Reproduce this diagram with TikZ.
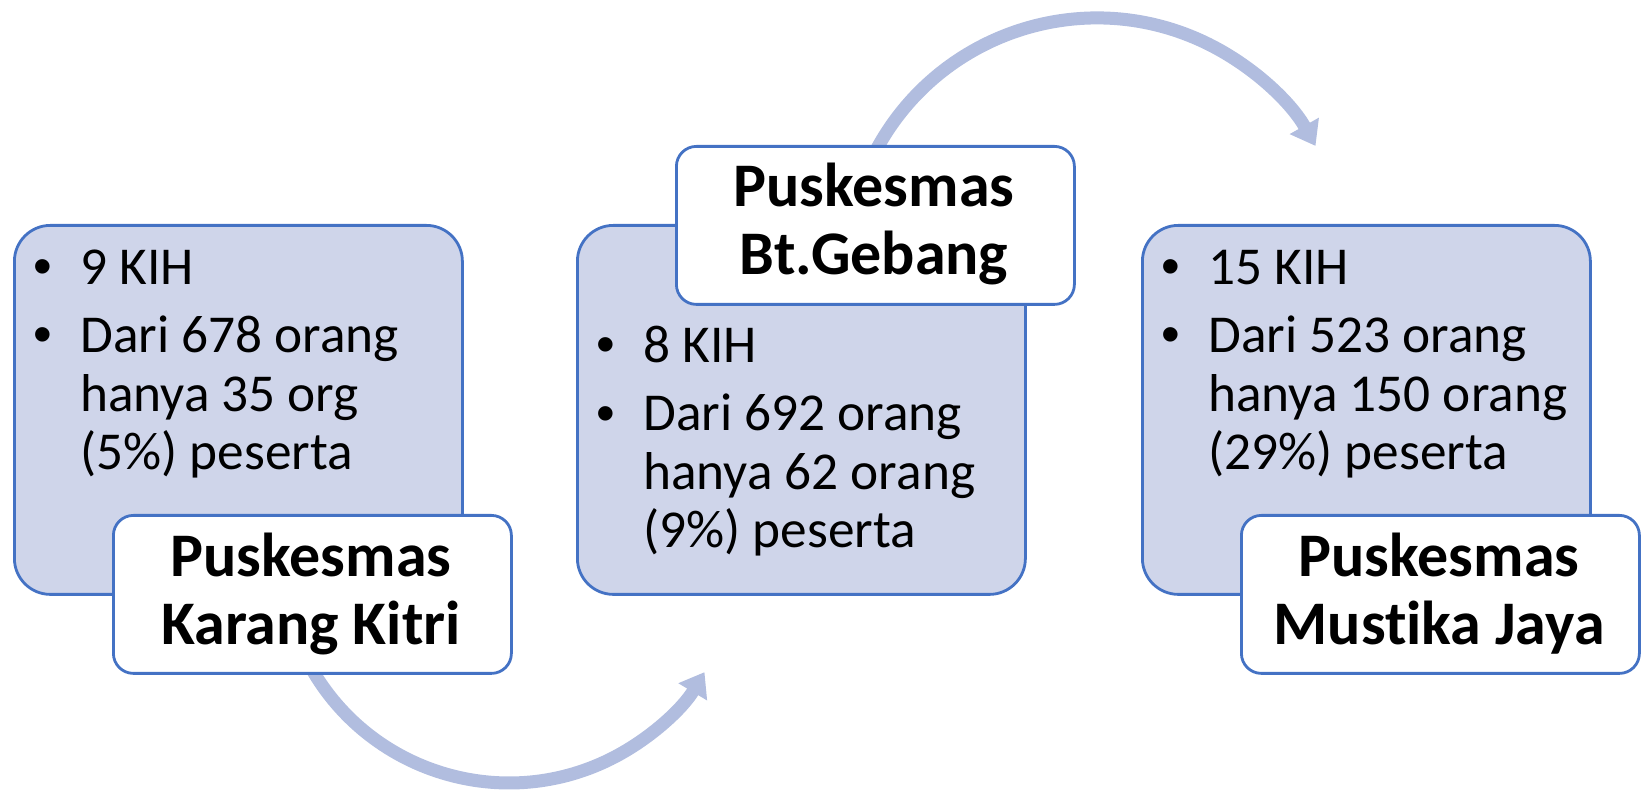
\documentclass[tikz,border=0pt]{standalone}
\usepackage{fontspec}
\setmainfont{Carlito}[Ligatures=CommonOff]
\newfontfamily\bulletfont{Liberation Sans}
\usetikzlibrary{arrows.meta}
\definecolor{boxfill}{HTML}{CFD5EA}
\definecolor{boxline}{HTML}{4472C4}
\definecolor{arrowcol}{HTML}{B1BDDF}
\begin{document}
\begin{tikzpicture}[x=0.5pt,y=0.5pt,
  bluebox/.style={draw=boxline, fill=boxfill, line width=1.4pt, rounded corners=18pt,
    minimum width=224pt, minimum height=184.5pt, anchor=north west, inner sep=0pt},
  titlebox/.style={draw=boxline, fill=white, line width=1.4pt, rounded corners=10pt,
    minimum width=199pt, minimum height=79pt, anchor=north west, inner sep=0pt},
  titletext/.style={font=\bfseries\fontsize{31}{34}\selectfont, align=center, inner sep=0pt, anchor=base},
  bodytext/.style={font=\fontsize{26.65}{29.25}\selectfont, align=left, inner sep=0pt, anchor=base west},
  bulletmark/.style={font=\bulletfont\fontsize{26.65}{29.25}\selectfont, inner sep=0pt, anchor=base},
  flowarrow/.style={draw=arrowcol, line width=6.5pt, -{Triangle[length=11.5pt, width=16pt]}}
]
\path[use as bounding box] (0,0) rectangle (1646,-790);

% arrows (behind boxes)
\coordinate (c1) at (307.9,-662.1);
\coordinate (c2) at (873.7,-154.8);
\draw[flowarrow] (c1) arc[start angle=208, end angle=329.1, radius=227.8];
\draw[flowarrow] (c2) arc[start angle=153, end angle=29.3, radius=250.6];

% box 1 (multi-line nodes: base = baseline of last line)
\node[bluebox] (b1) at (13,-224) {};
\node[bulletmark] (u1a) at (43,-285) {•};
\node[bodytext] (l1a) at (80,-285) {9 KIH};
\node[bulletmark] (u1b) at (43,-353) {•};
\node[bodytext] (l1b) at (80,-470) {Dari 678 orang\\hanya 35 org\\(5\%) peserta};
\node[titlebox] (t1) at (112,-514) {};
\node[titletext] (n1) at (311,-645) {Puskesmas\\Karang Kitri};

% box 2
\node[bluebox] (b2) at (576,-224) {};
\node[bulletmark] (u2a) at (606,-363) {•};
\node[bodytext] (l2a) at (643,-363) {8 KIH};
\node[bulletmark] (u2b) at (606,-432) {•};
\node[bodytext] (l2b) at (643,-548) {Dari 692 orang\\hanya 62 orang\\(9\%) peserta};
\node[titlebox] (t2) at (675,-145) {};
\node[titletext] (n2) at (874,-275) {Puskesmas\\Bt.Gebang};

% box 3
\node[bluebox] (b3) at (1141,-224) {};
\node[bulletmark] (u3a) at (1171,-285) {•};
\node[bodytext] (l3a) at (1208,-285) {15 KIH};
\node[bulletmark] (u3b) at (1171,-353) {•};
\node[bodytext] (l3b) at (1208,-470) {Dari 523 orang\\hanya 150 orang\\(29\%) peserta};
\node[titlebox] (t3) at (1240,-514) {};
\node[titletext] (n3) at (1439,-645) {Puskesmas\\Mustika Jaya};
\end{tikzpicture}
\end{document}
